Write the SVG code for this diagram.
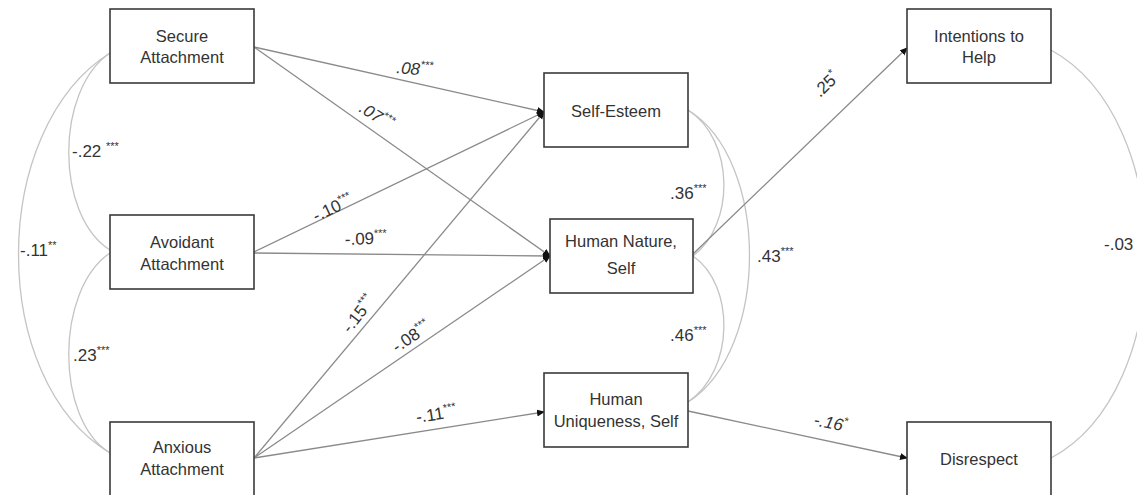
<svg xmlns="http://www.w3.org/2000/svg" width="1137" height="495" viewBox="0 0 1137 495">
<style>
.box{fill:#fff;stroke:#3a3a3a;stroke-width:1.6}
.t{font-family:"Liberation Sans",Arial,sans-serif;font-size:16.5px;fill:#333;text-anchor:middle}
.lab{font-family:"Liberation Sans",Arial,sans-serif;font-size:17px;fill:#333}
.sup{font-size:11px}
.path{fill:none;stroke:#8a8a8a;stroke-width:1.3}
.cov{fill:none;stroke:#c4c4c4;stroke-width:1.3}
</style>
<defs>
<marker id="ah" markerWidth="8" markerHeight="8" refX="7" refY="4" orient="auto" markerUnits="userSpaceOnUse">
<path d="M0,0.5 L8,4 L0,7.5 Z" fill="#111"/>
</marker>
</defs>
<g id="connectors">
<path class="cov" d="M110,53 C55,90 55,215 110,250"/>
<path class="cov" d="M110,53 C-12,130 -12,380 110,453"/>
<path class="cov" d="M110,253 C55,290 55,420 110,453"/>
<path class="cov" d="M688,110 C735,140 735,225 693,256"/>
<path class="cov" d="M688,110 C770,160 770,350 688,402"/>
<path class="cov" d="M693,256 C735,285 735,370 688,402"/>
<path class="cov" d="M1051,50 C1178,120 1178,390 1051,458"/>
<line class="path" x1="254" y1="47" x2="544" y2="112" marker-end="url(#ah)"/>
<line class="path" x1="254" y1="47" x2="550" y2="256" marker-end="url(#ah)"/>
<line class="path" x1="254" y1="252" x2="544" y2="112" marker-end="url(#ah)"/>
<line class="path" x1="254" y1="253" x2="550" y2="256" marker-end="url(#ah)"/>
<line class="path" x1="254" y1="458" x2="544" y2="112" marker-end="url(#ah)"/>
<line class="path" x1="254" y1="458" x2="550" y2="256" marker-end="url(#ah)"/>
<line class="path" x1="254" y1="458" x2="544" y2="412" marker-end="url(#ah)"/>
<line class="path" x1="693" y1="254" x2="907" y2="48" marker-end="url(#ah)"/>
<line class="path" x1="688" y1="411" x2="907" y2="458" marker-end="url(#ah)"/>
</g>
<g id="labels">
<text class="lab" x="72" y="157">-.22 <tspan class="sup" dy="-7">***</tspan></text>
<text class="lab" x="20" y="256">-.11<tspan class="sup" dy="-7">**</tspan></text>
<text class="lab" x="73" y="361">.23<tspan class="sup" dy="-7">***</tspan></text>
<text class="lab" x="670" y="199">.36<tspan class="sup" dy="-7">***</tspan></text>
<text class="lab" x="757" y="262">.43<tspan class="sup" dy="-7">***</tspan></text>
<text class="lab" x="670" y="341">.46<tspan class="sup" dy="-7">***</tspan></text>
<text class="lab" x="1104" y="250">-.03</text>
<text class="lab" transform="translate(396,73) rotate(5)" font-style="italic">.08<tspan class="sup" dy="-7">***</tspan></text>
<text class="lab" transform="translate(358,111) rotate(32)" font-style="italic">.07<tspan class="sup" dy="-7">***</tspan></text>
<text class="lab" transform="translate(316,222) rotate(-25)">-.10<tspan class="sup" dy="-7">***</tspan></text>
<text class="lab" transform="translate(345,245) rotate(-2)">-.09<tspan class="sup" dy="-7">***</tspan></text>
<text class="lab" transform="translate(350,334) rotate(-52)">-.15<tspan class="sup" dy="-7">***</tspan></text>
<text class="lab" transform="translate(397,353) rotate(-34)">-.08<tspan class="sup" dy="-7">***</tspan></text>
<text class="lab" transform="translate(417,423) rotate(-9)">-.11<tspan class="sup" dy="-7">***</tspan></text>
<text class="lab" transform="translate(820,98) rotate(-44)">.25<tspan class="sup" dy="-7">*</tspan></text>
<text class="lab" transform="translate(813,425) rotate(12)" font-style="italic">-.16<tspan class="sup" dy="-7">*</tspan></text>
</g>
<g id="secure"><rect class="box" x="110" y="9" width="144" height="74"/><text class="t" x="182" y="42">Secure</text><text class="t" x="182" y="63">Attachment</text></g>
<g id="avoidant"><rect class="box" x="110" y="215" width="144" height="74"/><text class="t" x="182" y="248">Avoidant</text><text class="t" x="182" y="270">Attachment</text></g>
<g id="anxious"><rect class="box" x="110" y="422" width="144" height="74"/><text class="t" x="182" y="453">Anxious</text><text class="t" x="182" y="475">Attachment</text></g>
<g id="selfesteem"><rect class="box" x="544" y="73" width="144" height="74"/><text class="t" x="616" y="117">Self-Esteem</text></g>
<g id="humannature"><rect class="box" x="550" y="219" width="143" height="74"/><text class="t" x="621" y="247">Human Nature,</text><text class="t" x="621" y="274">Self</text></g>
<g id="humanuniqueness"><rect class="box" x="544" y="373" width="144" height="74"/><text class="t" x="616" y="405">Human</text><text class="t" x="616" y="427">Uniqueness, Self</text></g>
<g id="intentions"><rect class="box" x="907" y="9" width="144" height="74"/><text class="t" x="979" y="42">Intentions to</text><text class="t" x="979" y="63">Help</text></g>
<g id="disrespect"><rect class="box" x="907" y="422" width="144" height="74"/><text class="t" x="979" y="465">Disrespect</text></g>
</svg>
